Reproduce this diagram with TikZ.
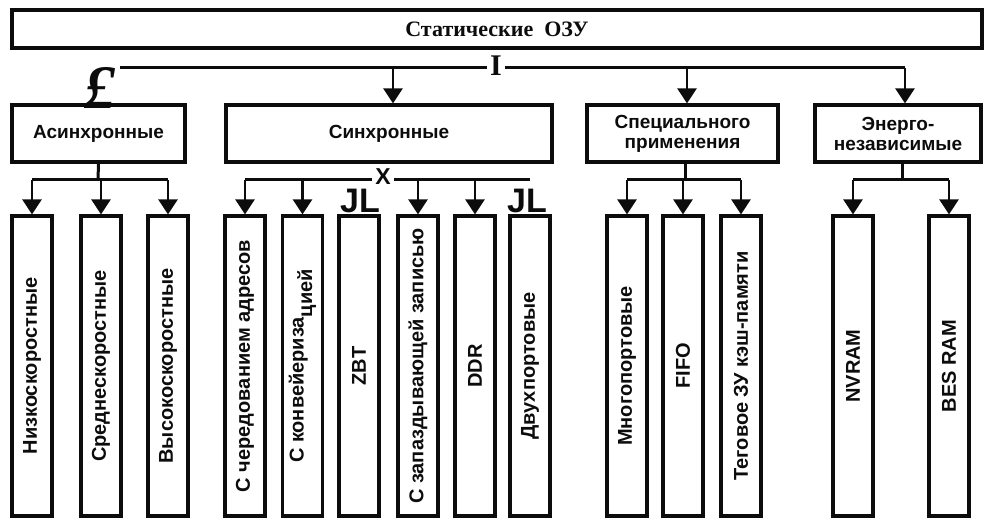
\documentclass[tikz,border=0pt]{standalone}
\usepackage{fontspec}
\setmainfont{Liberation Serif}
\setsansfont{Liberation Sans}
\usepackage{tikz}
\usetikzlibrary{
  arrows.meta,
  positioning
}
\definecolor{ozuInk}{RGB}{12,12,12}

\begin{document}
\begin{tikzpicture}[x=1pt, y=-1pt, ozuInk, line width=3pt,
  font=\sffamily\bfseries\fontsize{19}{20}\selectfont,
  box/.style={draw, line width=3.2pt, align=center, inner sep=0pt, minimum height=57pt},
  vbox/.style={draw, line width=3.2pt, inner sep=0pt, minimum width=40pt, minimum height=300pt,
    font=\sffamily\bfseries\fontsize{20}{22}\selectfont},
  arr/.style={-{Triangle[width=19pt,length=15pt]}, line width=2.6pt},
  glyph/.style={inner sep=1.5pt}]

\useasboundingbox (0,0) rectangle (987,518);

% Top box
\node[draw, line width=3.2pt, minimum width=970pt, minimum height=38pt, inner sep=0pt]
  (ozu) at (497,29) {\rmfamily\bfseries\fontsize{22}{24}\selectfont Статические\ \ ОЗУ};
\node[glyph, font=\rmfamily\bfseries\fontsize{30}{30}\selectfont] (tie) at (496,66) {I};
\node[glyph, inner sep=0pt, font=\rmfamily\bfseries\itshape\fontsize{62}{62}\selectfont] (pound) at (100,88) {£};

% Main bus
\coordinate (busL)   at (120,68);
\coordinate (busR)   at (905,68);
\coordinate (toSync) at (393,68);
\coordinate (toSpec) at (687,68);
\draw (busL) -- (tie.west |- busL);
\draw (tie.east |- busR) -- (busR);

% Groups
\node[box, minimum width=173pt] (async)  at (98.5,133.5) {Асинхронные};
\node[box, minimum width=326pt] (sync)   at (389,133.5)  {Синхронные};
\node[box, minimum width=191pt] (spec)   at (682.5,133.5) {Специального\\применения};
\node[box, minimum width=166pt] (energy) at (898,133.5)  {Энерго-\\независимые};

\draw[arr] (toSync) -- (toSync |- sync.north);
\draw[arr] (toSpec) -- (toSpec |- spec.north);
\draw[arr] (busR)   -- (busR |- energy.north);

% Asynchronous types
\foreach \n/\x/\t in {low/32/Низкоскоростные, mid/101/Среднескоростные, high/168/Высокоскоростные}
  \node[vbox] (\n) at (\x,366) {\rotatebox{90}{\t}};
\coordinate (aJoin) at (98,180);
\draw (async.south) -- (aJoin);
\draw (low.north |- aJoin) -- (high.north |- aJoin);
\foreach \n in {low,mid,high}
  \draw[arr] (\n.north |- aJoin) -- (\n.north);

% Synchronous types
\node[vbox] (sc1) at (245,366) {\rotatebox{90}{С чередованием адресов}};
\node[vbox] (sc2) at (302.5,366) {\rotatebox{90}{С конвейериза\raisebox{-0.8ex}{цией}}};
\node[vbox] (sc3) at (359,366) {\rotatebox{90}{ZBT}};
\node[vbox] (sc4) at (418,366) {\rotatebox{90}{С запаздывающей записью}};
\node[vbox] (sc5) at (475,366) {\rotatebox{90}{DDR}};
\node[vbox] (sc6) at (530,366) {\rotatebox{90}{Двухпортовые}};
\node[inner sep=0pt, font=\sffamily\bfseries\fontsize{23}{23}\selectfont] (cross) at (383,177) {X};
\coordinate (sJoin) at (383,180);
\draw (sc1.north |- sJoin) -- ([xshift=-2pt]cross.west |- sJoin);
\draw ([xshift=2pt]cross.east |- sJoin) -- (sc6.north |- sJoin);
\foreach \n in {sc1,sc2,sc4,sc5}
  \draw[arr] (\n.north |- sJoin) -- (\n.north);
\node[inner sep=0pt, anchor=south, font=\sffamily\bfseries\fontsize{34}{34}\selectfont]
  (jl1) at ([xshift=1pt]sc3.north) {JL};
\node[inner sep=0pt, anchor=south, font=\sffamily\bfseries\fontsize{34}{34}\selectfont]
  (jl2) at ([xshift=-3pt]sc6.north) {JL};

% Special-purpose types
\node[vbox] (sp1) at (627,366) {\rotatebox{90}{Многопортовые}};
\node[vbox] (sp2) at (683,366) {\rotatebox{90}{FIFO}};
\node[vbox] (sp3) at (741,366) {\rotatebox{90}{Теговое ЗУ кэш-памяти}};
\coordinate (pJoin) at (685,180);
\draw (spec.south -| pJoin) -- (pJoin);
\draw (sp1.north |- pJoin) -- (sp3.north |- pJoin);
\foreach \n in {sp1,sp2,sp3}
  \draw[arr] (\n.north |- pJoin) -- (\n.north);

% Non-volatile types
\node[vbox] (nv1) at (853,366) {\rotatebox{90}{NVRAM}};
\node[vbox] (nv2) at (949,366) {\rotatebox{90}{BES RAM}};
\coordinate (eJoin) at (902,180);
\draw (energy.south -| eJoin) -- (eJoin);
\draw (nv1.north |- eJoin) -- (nv2.north |- eJoin);
\foreach \n in {nv1,nv2}
  \draw[arr] (\n.north |- eJoin) -- (\n.north);

\end{tikzpicture}
\end{document}
